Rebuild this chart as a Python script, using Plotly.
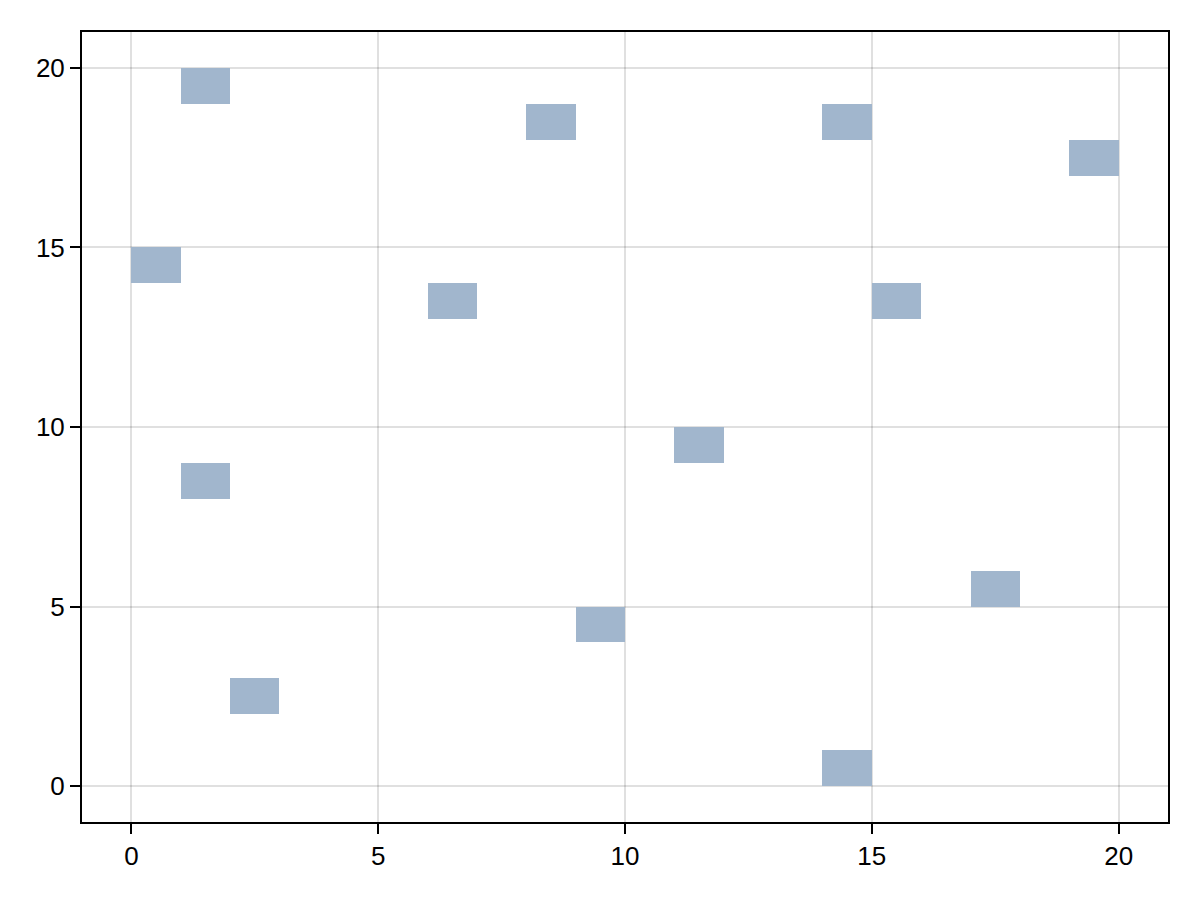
import plotly.graph_objects as go

# lower-left corner of each filled cell (cells are 1 x 1)
cell_x = [1, 8, 14, 19, 0, 6, 15, 11, 1, 17, 9, 2, 14]
cell_y = [19, 18, 18, 17, 14, 13, 13, 9, 8, 5, 4, 2, 0]

fig = go.Figure()

fig.add_trace(
    go.Bar(
        x=[cx + 0.5 for cx in cell_x],
        y=[1] * len(cell_y),
        base=cell_y,
        width=1,
        marker=dict(color="#a1b6cd", line=dict(width=0)),
        showlegend=False,
    )
)

axis_opts = dict(
    showgrid=True,
    gridcolor="rgba(0,0,0,0.12)",
    gridwidth=1.5,
    showline=True,
    linecolor="black",
    linewidth=2,
    mirror=True,
    ticks="outside",
    ticklen=10,
    tickwidth=1.5,
    tickcolor="black",
    zeroline=False,
    tickfont=dict(size=26, color="black"),
    tick0=0,
    dtick=5,
)

fig.update_xaxes(range=[-1, 21], **axis_opts)
fig.update_yaxes(range=[-1, 21], **axis_opts)

# page body adds an 8px offset, so size and margins are trimmed to compensate
fig.update_layout(
    width=1192,
    height=892,
    plot_bgcolor="white",
    paper_bgcolor="white",
    font=dict(family="Liberation Sans, Arial, sans-serif", color="black"),
    margin=dict(l=74, r=32, t=24, b=78),
    bargap=0,
)

fig.write_html("out.html")
